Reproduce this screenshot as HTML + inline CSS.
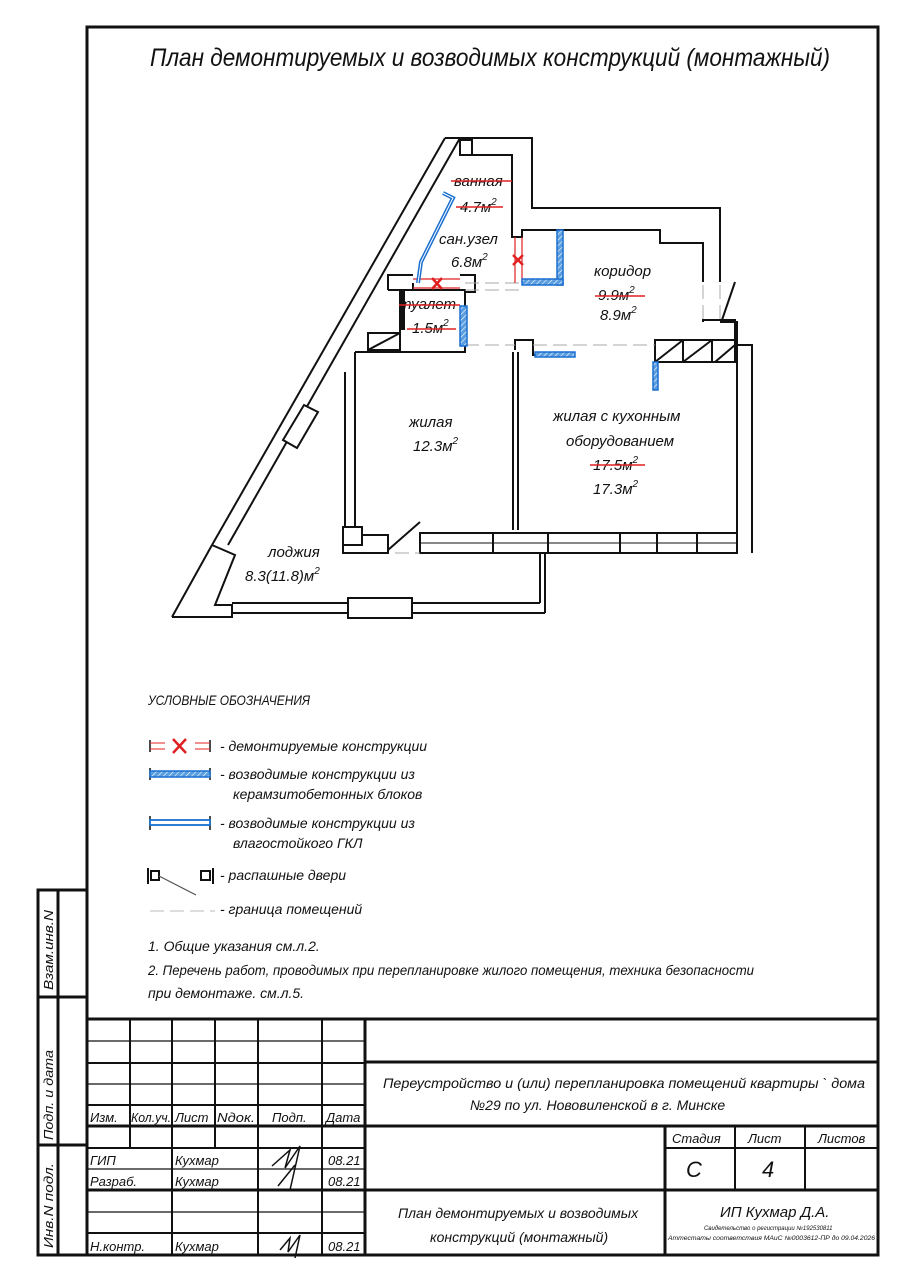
<!DOCTYPE html>
<html><head><meta charset="utf-8"><style>
html,body{margin:0;padding:0;background:#fff;}
svg{display:block;}
text{font-family:"Liberation Sans","DejaVu Sans",sans-serif;font-style:italic;fill:#111;}
</style></head><body>
<svg width="904" height="1280" viewBox="0 0 904 1280" xmlns="http://www.w3.org/2000/svg">
<defs>
<pattern id="h" width="4" height="4" patternUnits="userSpaceOnUse" patternTransform="rotate(45)">
<rect width="4" height="4" fill="#5b9ee0"/><line x1="0" y1="0" x2="0" y2="4" stroke="#fff" stroke-width="1.2"/>
</pattern>
</defs>
<!-- frame -->
<g fill="none" stroke="#111" stroke-width="3">
<rect x="87" y="27" width="791" height="1228"/>
<polyline points="87,890 38,890 38,1255 87,1255"/>
<line x1="38" y1="997" x2="87" y2="997"/>
<line x1="38" y1="1145" x2="87" y2="1145"/>
<line x1="58" y1="890" x2="58" y2="1255"/>
</g>
<text transform="translate(53,990) rotate(-90)" font-size="13" textLength="80" lengthAdjust="spacingAndGlyphs">Взам.инв.N</text>
<text transform="translate(53,1140) rotate(-90)" font-size="13" textLength="90" lengthAdjust="spacingAndGlyphs">Подп. и дата</text>
<text transform="translate(53,1248) rotate(-90)" font-size="13" textLength="85" lengthAdjust="spacingAndGlyphs">Инв.N подл.</text>

<!-- title -->
<text x="150" y="66" font-size="25" textLength="680" lengthAdjust="spacingAndGlyphs">План  демонтируемых  и  возводимых  конструкций  (монтажный)</text>

<!-- PLAN -->
<g fill="none" stroke="#111" stroke-width="2">
<!-- diagonal outer wall -->
<line x1="445" y1="138" x2="212" y2="545"/>
<line x1="460" y1="138" x2="228" y2="545"/>
<line x1="212" y1="545" x2="172" y2="617"/>
<polyline points="212,545 235,555 215,605 232,605 232,617 172,617"/>
<polygon points="304,405 318,412 297,448 283,440" fill="#fff"/>
<!-- bathroom top -->
<polyline points="445,138 532,138 532,208 720,208 720,282"/>
<polyline points="460,155 512,155 512,237 522,237 522,230 660,230 660,243 703,243 703,282"/>
<rect x="460" y="140" width="12" height="15"/>
<!-- corridor right -->
<polyline points="703,322 703,320 735,320 735,345 752,345 752,553"/>
<polyline points="720,322 737,322 737,553"/>
<line x1="735" y1="282" x2="722" y2="320"/>
<!-- hatched kitchen boxes -->
<rect x="655" y="340" width="80" height="22"/>
<line x1="683" y1="340" x2="683" y2="362"/><line x1="712" y1="340" x2="712" y2="362"/>
<line x1="655" y1="362" x2="683" y2="340"/><line x1="683" y1="362" x2="712" y2="340"/>
<line x1="715" y1="362" x2="735" y2="345"/>
<!-- kitchen / room divider -->
<polyline points="515,350 515,340 533,340 533,355 575,355"/>
<line x1="513" y1="352" x2="513" y2="530"/><line x1="518" y1="352" x2="518" y2="530"/>
<!-- room left walls -->
<polyline points="355,352 400,352"/>
<line x1="355" y1="352" x2="355" y2="527"/>
<line x1="345" y1="372" x2="345" y2="527"/>
<rect x="343" y="527" width="19" height="18"/>
<polyline points="362,535 388,535 388,553 343,553 343,545"/>
<line x1="388" y1="550" x2="420" y2="522"/>
<!-- window wall bottom -->
<rect x="420" y="533" width="317" height="20"/>
<line x1="420" y1="543" x2="737" y2="543" stroke-width="1"/>
<line x1="493" y1="533" x2="493" y2="553"/><line x1="548" y1="533" x2="548" y2="553"/>
<line x1="620" y1="533" x2="620" y2="553"/><line x1="657" y1="533" x2="657" y2="553"/>
<line x1="697" y1="533" x2="697" y2="553"/>
<!-- loggia -->
<line x1="232" y1="603" x2="540" y2="603"/><line x1="232" y1="613" x2="545" y2="613"/>
<line x1="540" y1="553" x2="540" y2="603"/><line x1="545" y1="553" x2="545" y2="613"/>
<rect x="348" y="598" width="64" height="20" fill="#fff"/>
<!-- toilet -->
<polyline points="388,290 413,290 413,283"/>
<rect x="400" y="290" width="65" height="62"/>
<line x1="403" y1="290" x2="403" y2="330" stroke-width="4"/>
<polygon points="368,350 368,333 400,333 400,350"/>
<line x1="368" y1="350" x2="400" y2="333"/>
<polyline points="388,290 388,275 413,275"/>
<polyline points="460,275 475,275 475,292 465,292"/>
</g>
<!-- dashed boundaries -->
<g stroke="#aaa" stroke-width="1" stroke-dasharray="14,6" fill="none">
<line x1="465" y1="283" x2="522" y2="283"/><line x1="465" y1="290" x2="522" y2="290"/>
<line x1="465" y1="345" x2="515" y2="345"/><line x1="533" y1="345" x2="655" y2="345"/>
<line x1="703" y1="285" x2="703" y2="320"/><line x1="720" y1="285" x2="720" y2="320"/>
<line x1="395" y1="553" x2="420" y2="553"/>
</g>
<!-- demolished -->
<g stroke="#e02020" stroke-width="1.2">
<line x1="413" y1="279" x2="460" y2="279"/><line x1="413" y1="288" x2="460" y2="288"/>
<line x1="515" y1="237" x2="515" y2="283"/><line x1="522" y1="237" x2="522" y2="283"/>
</g>
<g stroke="#e02020" stroke-width="2.5">
<line x1="432" y1="278" x2="442" y2="289"/><line x1="442" y1="278" x2="432" y2="289"/>
<line x1="513" y1="255" x2="523" y2="265"/><line x1="523" y1="255" x2="513" y2="265"/>
</g>
<!-- blue new -->
<polyline points="443,193 453,198 421,262 418,283" fill="none" stroke="#1a6fd0" stroke-width="4"/>
<polyline points="443,193 453,198 421,262 418,283" fill="none" stroke="#fff" stroke-width="1"/>
<rect x="557" y="230" width="6" height="55" fill="url(#h)" stroke="#1a6fd0" stroke-width="1.5"/>
<rect x="522" y="279" width="41" height="6" fill="url(#h)" stroke="#1a6fd0" stroke-width="1.5"/>
<rect x="460" y="306" width="7" height="40" fill="url(#h)" stroke="#1a6fd0" stroke-width="1.5"/>
<rect x="535" y="352" width="40" height="5" fill="url(#h)" stroke="#1a6fd0" stroke-width="1.5"/>
<rect x="653" y="362" width="5" height="28" fill="url(#h)" stroke="#1a6fd0" stroke-width="1.5"/>
<!-- room labels -->
<g font-size="15">
<text x="454" y="186">ванная</text>
<text x="460" y="212">4.7м<tspan font-size="10" dy="-7">2</tspan></text>
<text x="439" y="244">сан.узел</text>
<text x="451" y="267">6.8м<tspan font-size="10" dy="-7">2</tspan></text>
<text x="594" y="276">коридор</text>
<text x="598" y="300">9.9м<tspan font-size="10" dy="-7">2</tspan></text>
<text x="600" y="320">8.9м<tspan font-size="10" dy="-7">2</tspan></text>
<text x="399" y="309">туалет</text>
<text x="412" y="333">1.5м<tspan font-size="10" dy="-7">2</tspan></text>
<text x="409" y="427">жилая</text>
<text x="413" y="451">12.3м<tspan font-size="10" dy="-7">2</tspan></text>
<text x="553" y="421">жилая с кухонным</text>
<text x="566" y="446">оборудованием</text>
<text x="593" y="470">17.5м<tspan font-size="10" dy="-7">2</tspan></text>
<text x="593" y="494">17.3м<tspan font-size="10" dy="-7">2</tspan></text>
<text x="268" y="557">лоджия</text>
<text x="245" y="581">8.3(11.8)м<tspan font-size="10" dy="-7">2</tspan></text>
</g>
<g stroke="#e02020" stroke-width="1.5">
<line x1="451" y1="181" x2="512" y2="181"/><line x1="456" y1="207" x2="503" y2="207"/>
<line x1="399" y1="305" x2="460" y2="305"/><line x1="407" y1="329" x2="456" y2="329"/>
<line x1="595" y1="296" x2="645" y2="296"/><line x1="590" y1="465" x2="645" y2="465"/>
</g>

<!-- legend -->
<text x="148" y="705" font-size="14" textLength="162" lengthAdjust="spacingAndGlyphs">УСЛОВНЫЕ ОБОЗНАЧЕНИЯ</text>
<g stroke="#111" stroke-width="1.5">
<line x1="150" y1="740" x2="150" y2="752"/><line x1="210" y1="740" x2="210" y2="752"/>
<line x1="150" y1="768" x2="150" y2="780"/><line x1="210" y1="768" x2="210" y2="780"/>
<line x1="150" y1="816" x2="150" y2="830"/><line x1="210" y1="816" x2="210" y2="830"/>
</g>
<g stroke="#e02020" stroke-width="1"><line x1="150" y1="743" x2="165" y2="743"/><line x1="150" y1="749" x2="165" y2="749"/><line x1="195" y1="743" x2="210" y2="743"/><line x1="195" y1="749" x2="210" y2="749"/></g>
<g stroke="#e02020" stroke-width="2.5"><line x1="173" y1="739" x2="186" y2="753"/><line x1="186" y1="739" x2="173" y2="753"/></g>
<rect x="150" y="771" width="60" height="6" fill="url(#h)" stroke="#1a6fd0" stroke-width="1.5"/>
<rect x="150" y="820" width="60" height="5" fill="#fff" stroke="#1a6fd0" stroke-width="1.8"/>
<g stroke="#111" stroke-width="2" fill="none">
<rect x="151" y="871" width="8" height="9"/><line x1="148" y1="868" x2="148" y2="884"/>
<rect x="201" y="871" width="9" height="9"/><line x1="213" y1="868" x2="213" y2="884"/>
<line x1="159" y1="876" x2="196" y2="895" stroke-width="1.2" stroke="#555"/>
</g>
<line x1="150" y1="911" x2="215" y2="911" stroke="#bbb" stroke-dasharray="14,6"/>
<g font-size="14">
<text x="220" y="751">- демонтируемые конструкции</text>
<text x="220" y="779">- возводимые конструкции из</text>
<text x="233" y="799">керамзитобетонных блоков</text>
<text x="220" y="828">- возводимые конструкции из</text>
<text x="233" y="848">влагостойкого ГКЛ</text>
<text x="220" y="880">- распашные двери</text>
<text x="220" y="914">- граница помещений</text>
<text x="148" y="951">1.  Общие указания см.л.2.</text>
<text x="148" y="975" textLength="606" lengthAdjust="spacingAndGlyphs">2.  Перечень работ, проводимых при перепланировке жилого помещения, техника безопасности</text>
<text x="148" y="998">при демонтаже. см.л.5.</text>
</g>

<!-- title block -->
<g stroke="#111" stroke-width="2" fill="none">
<line x1="87" y1="1019" x2="878" y2="1019" stroke-width="3"/>
<line x1="87" y1="1041" x2="365" y2="1041" stroke-width="1.2"/>
<line x1="87" y1="1063" x2="365" y2="1063"/>
<line x1="87" y1="1084" x2="365" y2="1084" stroke-width="1.2"/>
<line x1="87" y1="1105" x2="365" y2="1105"/>
<line x1="87" y1="1126" x2="878" y2="1126" stroke-width="3"/>
<line x1="87" y1="1148" x2="365" y2="1148"/>
<line x1="87" y1="1169" x2="365" y2="1169" stroke-width="1.2"/>
<line x1="87" y1="1190" x2="878" y2="1190" stroke-width="3"/>
<line x1="87" y1="1212" x2="365" y2="1212" stroke-width="1.2"/>
<line x1="87" y1="1233" x2="365" y2="1233"/>
<line x1="365" y1="1062" x2="878" y2="1062" stroke-width="3"/>
<line x1="665" y1="1148" x2="878" y2="1148"/>
<line x1="130" y1="1019" x2="130" y2="1148"/>
<line x1="172" y1="1019" x2="172" y2="1255"/>
<line x1="215" y1="1019" x2="215" y2="1148"/>
<line x1="258" y1="1019" x2="258" y2="1255"/>
<line x1="322" y1="1019" x2="322" y2="1255"/>
<line x1="365" y1="1019" x2="365" y2="1255" stroke-width="3"/>
<line x1="665" y1="1126" x2="665" y2="1255" stroke-width="3"/>
<line x1="735" y1="1126" x2="735" y2="1190"/>
<line x1="805" y1="1126" x2="805" y2="1190"/>
</g>
<g font-size="13">
<text x="90" y="1122">Изм.</text>
<text x="131" y="1122" textLength="40" lengthAdjust="spacingAndGlyphs">Кол.уч.</text>
<text x="175" y="1122">Лист</text>
<text x="217" y="1122" textLength="38" lengthAdjust="spacingAndGlyphs">Nдок.</text>
<text x="272" y="1122">Подп.</text>
<text x="326" y="1122">Дата</text>
<text x="90" y="1165">ГИП</text>
<text x="175" y="1165">Кухмар</text>
<text x="328" y="1165">08.21</text>
<text x="90" y="1186">Разраб.</text>
<text x="175" y="1186">Кухмар</text>
<text x="328" y="1186">08.21</text>
<text x="90" y="1251">Н.контр.</text>
<text x="175" y="1251">Кухмар</text>
<text x="328" y="1251">08.21</text>
<text x="672" y="1143">Стадия</text>
<text x="748" y="1143">Лист</text>
<text x="818" y="1143">Листов</text>
</g>
<g font-size="14">
<text x="383" y="1088" textLength="482" lengthAdjust="spacingAndGlyphs">Переустройство и (или) перепланировка помещений квартиры    `  дома</text>
<text x="470" y="1110">№29  по ул. Нововиленской в г. Минске</text>
<text x="398" y="1218">План демонтируемых и возводимых</text>
<text x="430" y="1242">конструкций (монтажный)</text>
<text x="720" y="1217" font-size="15">ИП Кухмар Д.А.</text>
</g>
<text x="686" y="1177" font-size="22">С</text>
<text x="762" y="1177" font-size="22">4</text>
<text x="704" y="1230" font-size="6">Свидетельство о регистрации №192530811</text>
<text x="668" y="1240" font-size="6" textLength="207" lengthAdjust="spacingAndGlyphs">Аттестаты соответствия МАиС №0003612-ПР до 09.04.2026</text>
<g stroke="#111" stroke-width="1.5" fill="none">
<path d="M272,1166 L290,1150 L285,1168 L300,1146 L290,1190 M278,1186 L295,1165"/>
<path d="M280,1250 L290,1238 L288,1252 L300,1235 L295,1258"/>
</g>
</svg>
</body></html>
